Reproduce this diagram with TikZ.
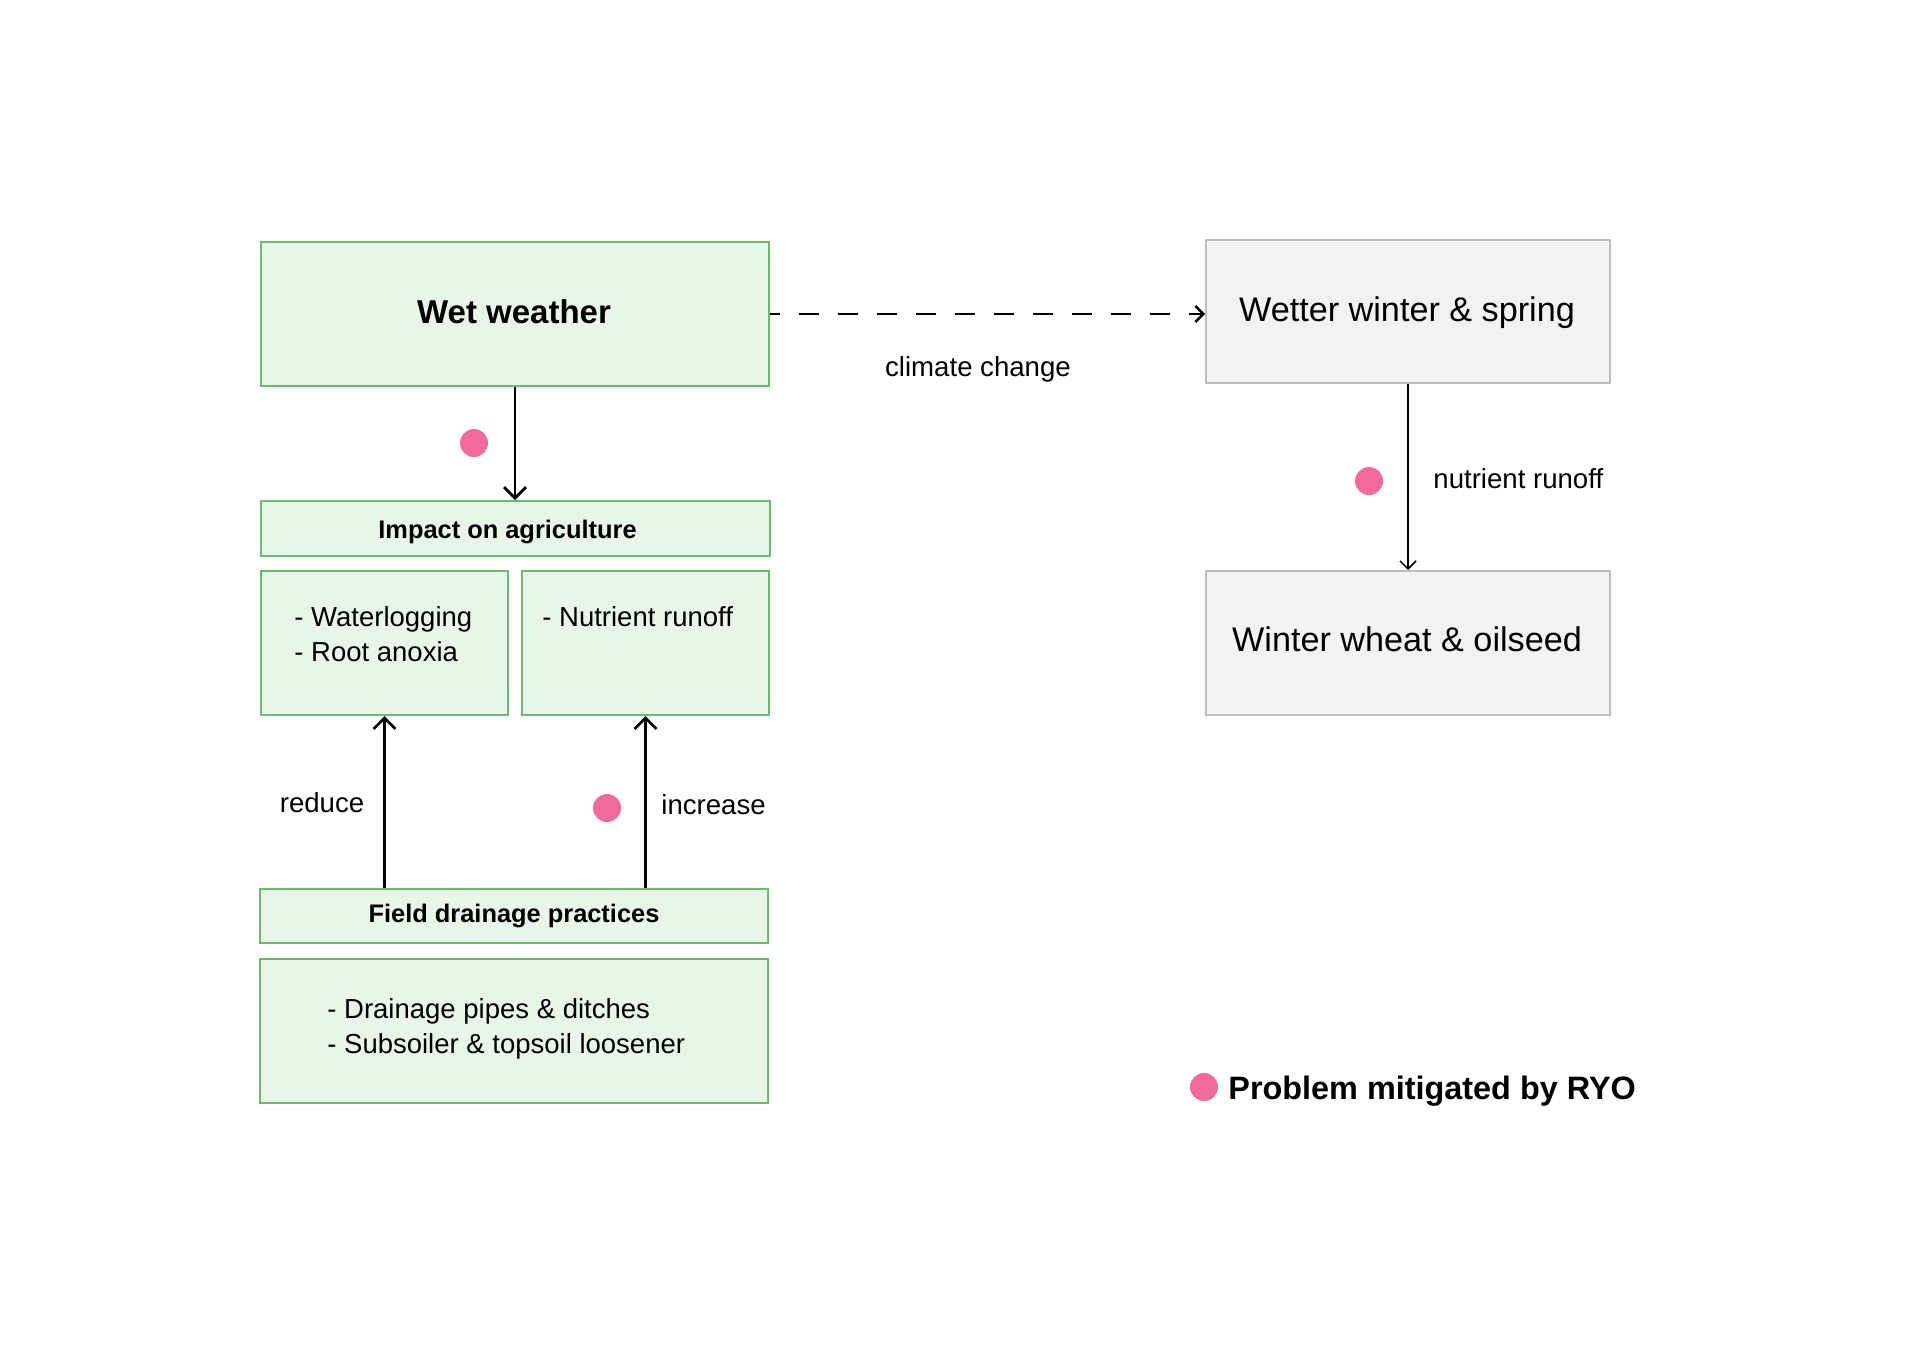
\documentclass[tikz,border=0pt]{standalone}
\usepackage{fontspec}
\setmainfont{Liberation Sans}
\usetikzlibrary{arrows.meta}
\definecolor{gfill}{HTML}{E8F5E9}
\definecolor{gline}{HTML}{6DB96F}
\definecolor{grfill}{HTML}{F2F2F2}
\definecolor{grline}{HTML}{BDBDBD}
\definecolor{pinkdot}{HTML}{F06A9B}
\begin{document}
\begin{tikzpicture}[x=0.5pt,y=-0.5pt,
  greenbox/.style={draw=gline, fill=gfill, line width=1pt, inner sep=0pt},
  graybox/.style={draw=grline, fill=grfill, line width=1pt, inner sep=0pt},
  txt/.style={inner sep=0pt, anchor=base},
  txtl/.style={inner sep=0pt, anchor=base west},
  bigbold/.style={font=\fontsize{16.5pt}{20pt}\selectfont\bfseries},
  bigreg/.style={font=\fontsize{17.1pt}{20pt}\selectfont},
  headbold/.style={font=\fontsize{12.7pt}{15pt}\selectfont\bfseries},
  itemreg/.style={font=\fontsize{13.75pt}{17.5pt}\selectfont},
  labreg/.style={font=\fontsize{13.8pt}{16pt}\selectfont},
  legbold/.style={font=\fontsize{16.2pt}{19pt}\selectfont\bfseries},
  pdot/.style={circle, fill=pinkdot, inner sep=0pt, minimum size=14pt},
  thickarr/.style={line width=1.35pt, -{Straight Barb[length=5.5pt,width=11pt,line width=1.35pt]}},
  thinarr/.style={line width=0.75pt, -{Straight Barb[length=4pt,width=8pt,line width=0.75pt]}},
  dasharr/.style={line width=1.4pt, dash pattern=on 10pt off 9.5pt, dash phase=5pt,
    -{Straight Barb[length=4pt,width=8pt,line width=1.2pt]}}
]
\useasboundingbox (0,0) rectangle (1920,1344);
\fill[white] (0,0) rectangle (1920,1344);

% boxes
\node[greenbox, minimum width=254pt, minimum height=72pt] (wet) at (515,314) {};
\node[greenbox, minimum width=254.5pt, minimum height=27.5pt] (impact) at (515.5,528.5) {};
\node[greenbox, minimum width=123.5pt, minimum height=72pt] (waterlog) at (384.5,643) {};
\node[greenbox, minimum width=123.5pt, minimum height=72pt] (nutrient) at (645.5,643) {};
\node[greenbox, minimum width=254pt, minimum height=27pt] (field) at (514,916) {};
\node[greenbox, minimum width=254pt, minimum height=72pt] (drain) at (514,1031) {};
\node[graybox, minimum width=202pt, minimum height=71.5pt] (wetter) at (1408,311.5) {};
\node[graybox, minimum width=202pt, minimum height=72pt] (wheat) at (1408,643) {};

% texts
\node[txt, bigbold] (wettxt) at (514,323) {Wet weather};
\node[txt, headbold] (impacttxt) at (507.5,538) {Impact on agriculture};
\node[txtl, itemreg] (wl1) at (294,626) {- Waterlogging};
\node[txtl, itemreg] (wl2) at (294,661) {- Root anoxia};
\node[txtl, itemreg] (nr1) at (542,626) {- Nutrient runoff};
\node[txt, headbold] (fieldtxt) at (514,922) {Field drainage practices};
\node[txtl, itemreg] (dr1) at (327,1018) {- Drainage pipes \& ditches};
\node[txtl, itemreg] (dr2) at (327,1053) {- Subsoiler \& topsoil loosener};
\node[txt, bigreg] (wettertxt) at (1407,321) {Wetter winter \& spring};
\node[txt, bigreg] (wheattxt) at (1407,651) {Winter wheat \& oilseed};

% connectors
\draw[thickarr] (wet.south) -- (wet.south |- impact.north);
\draw[thickarr] (waterlog.south |- field.north) -- (waterlog.south);
\draw[thickarr] (nutrient.south |- field.north) -- (nutrient.south);
\draw[thinarr] (wetter.south) -- (wheat.north);
\draw[dasharr] (wet.east) -- (wet.east -| wetter.west);

% labels
\node[txt, labreg] (cc) at (978,376) {climate change};
\node[txtl, labreg] (nrlab) at (1433,488) {nutrient runoff};
\node[txt, labreg] (red) at (322,812) {reduce};
\node[txtl, labreg] (inc) at (661,814) {increase};

% dots
\node[pdot] (dot1) at (474,443) {};
\node[pdot] (dot2) at (607,808) {};
\node[pdot] (dot3) at (1369,481) {};
\node[pdot] (dotleg) at (1204,1087) {};
\node[txtl, legbold] (legtxt) at (1228,1099) {Problem mitigated by RYO};
\end{tikzpicture}
\end{document}
